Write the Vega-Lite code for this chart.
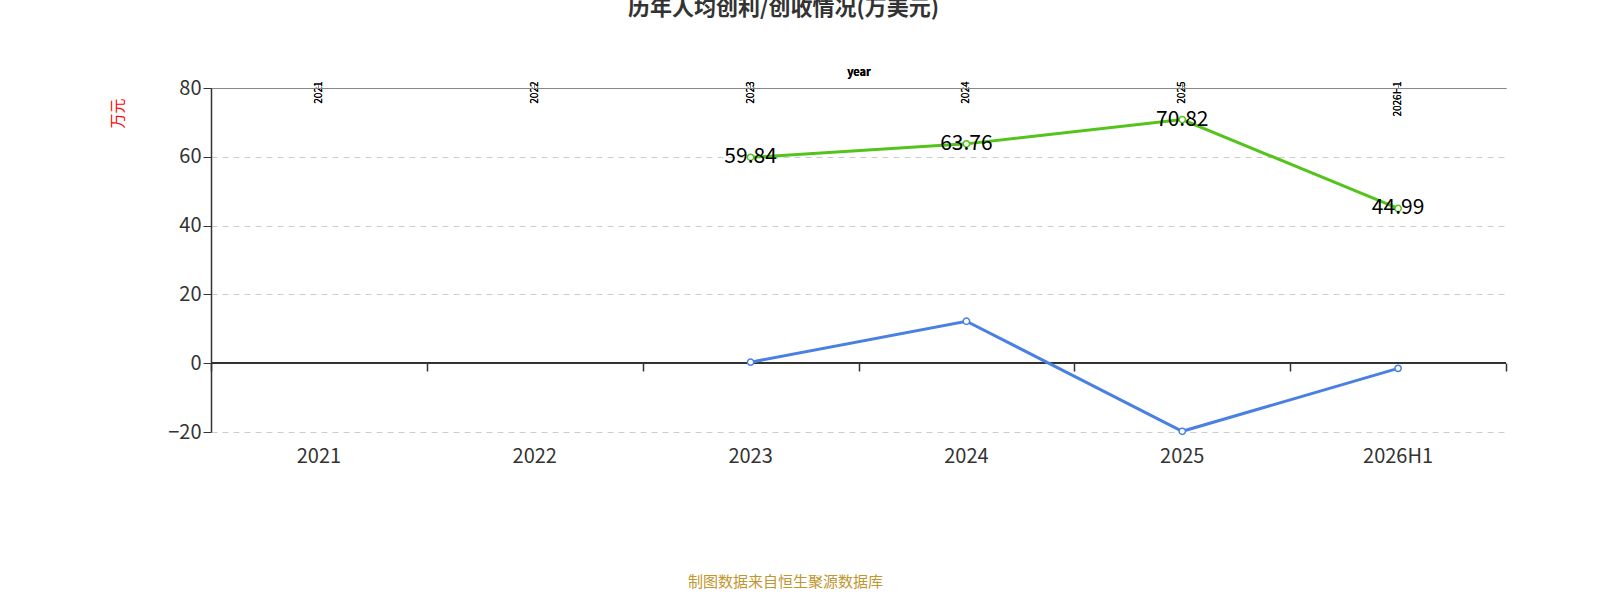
{
  "$schema": "https://vega.github.io/schema/vega-lite/v6.json",
  "width": 1295,
  "height": 344,
  "autosize": "none",
  "padding": {"left": 211, "top": 88, "right": 94, "bottom": 168},
  "title": {"text": "历年人均创利/创收情况(万美元)", "fontSize": 22, "fontWeight": "bold", "color": "#333", "offset": 46, "dx": -75, "font": "Noto Sans CJK SC"},
  "data": {"values": [
    {"year": "2021", "series": "人均创收", "v": null},
    {"year": "2022", "series": "人均创收", "v": null},
    {"year": "2023", "series": "人均创收", "v": 59.84},
    {"year": "2024", "series": "人均创收", "v": 63.76},
    {"year": "2025", "series": "人均创收", "v": 70.82},
    {"year": "2026H1", "series": "人均创收", "v": 44.99},
    {"year": "2023", "series": "人均创利", "v": 0.3},
    {"year": "2024", "series": "人均创利", "v": 12.2},
    {"year": "2025", "series": "人均创利", "v": -19.8},
    {"year": "2026H1", "series": "人均创利", "v": -1.5}
  ]},
  "layer": [
    {
      "mark": {"type": "rule", "color": "#333", "strokeWidth": 1.5},
      "encoding": {"y": {"datum": 0, "type": "quantitative", "scale": {"domain": [-20, 80]}}}
    },
    {
      "transform": [{"filter": "datum.v != null"}],
      "mark": {"type": "line", "strokeWidth": 3},
      "encoding": {
        "x": {"field": "year", "type": "nominal", "sort": ["2021", "2022", "2023", "2024", "2025", "2026H1"], "scale": {"paddingInner": 0, "paddingOuter": 0},
          "axis": {"title": "制图数据来自恒生聚源数据库", "titleColor": "#c0962e", "titleFontSize": 15, "titleFontWeight": "normal", "titlePadding": 108, "titleX": 574, "labelAngle": 0, "labelFontSize": 20, "labelColor": "#333", "labelPadding": 14, "domain": false, "ticks": false, "grid": false}},
        "y": {"field": "v", "type": "quantitative", "scale": {"domain": [-20, 80]},
          "axis": {"values": [-20, 0, 20, 40, 60, 80], "title": "万元", "titleColor": "red", "titleFontSize": 15, "titleFontWeight": "normal", "titlePadding": 42, "titleY": 25, "labelFontSize": 20, "labelColor": "#333", "domainColor": "#333", "domainWidth": 1.5, "tickColor": "#333", "tickSize": 8, "grid": true, "gridDash": [6, 5], "gridColor": "#ccc"}},
        "color": {"field": "series", "type": "nominal", "sort": ["人均创收", "人均创利"],
          "scale": {"domain": ["人均创收", "人均创利"], "range": ["#52c41a", "#4a80e2"]}, "legend": null}
      }
    },
    {
      "transform": [{"filter": "datum.v != null"}],
      "mark": {"type": "point", "filled": false, "fill": "white", "size": 40, "strokeWidth": 1.5, "opacity": 1},
      "encoding": {
        "x": {"field": "year", "type": "nominal", "sort": ["2021", "2022", "2023", "2024", "2025", "2026H1"]},
        "y": {"field": "v", "type": "quantitative"},
        "color": {"field": "series", "type": "nominal", "sort": ["人均创收", "人均创利"],
          "legend": {"title": null, "orient": "none", "legendX": 415, "legendY": 423, "direction": "horizontal", "symbolType": "circle", "symbolFillColor": "white", "symbolSize": 350, "symbolStrokeWidth": 2, "labelFontSize": 20, "labelColor": "#333", "columnPadding": 20}}
      }
    },
    {
      "transform": [{"filter": "datum.series == '人均创收' && datum.v != null"}],
      "mark": {"type": "text", "fontSize": 21, "color": "black"},
      "encoding": {
        "x": {"field": "year", "type": "nominal", "sort": ["2021", "2022", "2023", "2024", "2025", "2026H1"]},
        "y": {"field": "v", "type": "quantitative"}, "text": {"field": "v", "format": ".2f"}}
    },
    {
      "mark": {"type": "tick", "opacity": 0},
      "encoding": {
        "x": {"field": "year", "type": "nominal", "sort": ["2021", "2022", "2023", "2024", "2025", "2026H1"],
          "axis": {"orient": "bottom", "offset": -69, "labels": false, "title": null, "domain": false, "tickBand": "extent", "tickColor": "#333", "tickSize": 8, "tickWidth": 1.5}}
      }
    }
  ],
  "resolve": {"axis": {"x": "independent"}},
  "config": {"font": "Noto Sans CJK SC", "view": {"stroke": null}, "axis": {"labelFont": "Noto Sans CJK SC"}}
}
